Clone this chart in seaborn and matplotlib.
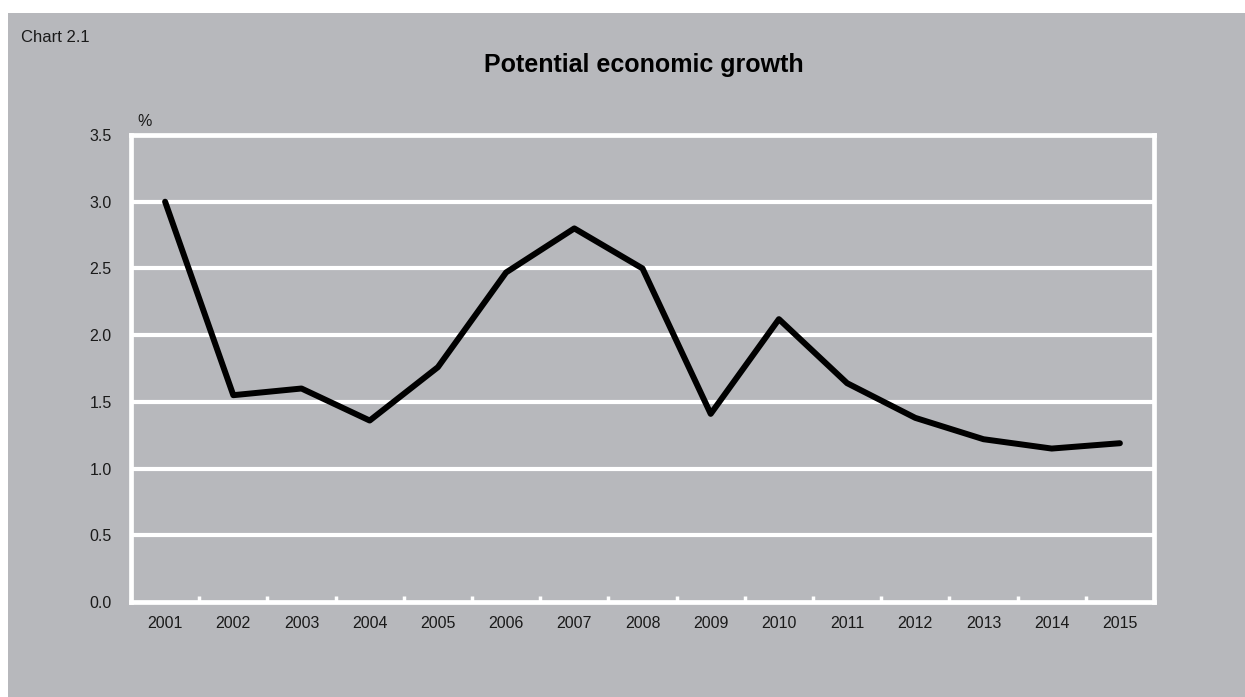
import matplotlib
matplotlib.use("Agg")
import matplotlib.pyplot as plt
import matplotlib.patches as mpatches
from matplotlib.ticker import FixedLocator
import seaborn as sns
import pandas as pd

years = ["2001", "2002", "2003", "2004", "2005", "2006", "2007", "2008",
         "2009", "2010", "2011", "2012", "2013", "2014", "2015"]
growth = [3.00, 1.55, 1.60, 1.36, 1.76, 2.47, 2.80, 2.50,
          1.41, 2.12, 1.64, 1.38, 1.22, 1.15, 1.19]
y_ticks = [0.0, 0.5, 1.0, 1.5, 2.0, 2.5, 3.0, 3.5]

BG = "#b7b8bc"
sns.set_theme(style="white")
plt.rcParams["font.family"] = ["Liberation Sans", "DejaVu Sans"]

df = pd.DataFrame({"year": years, "growth": growth})

W, H = 1245, 697
fig = plt.figure(figsize=(W / 100, H / 100), dpi=100)
fig.patch.set_facecolor("white")
fig.patches.append(mpatches.Rectangle((8 / W, 0), 1 - 8 / W, 1 - 13 / H,
                                      transform=fig.transFigure,
                                      facecolor=BG, edgecolor="none", zorder=-10))

left, right, top, bottom = 131, 1154, 135, 602
ax = fig.add_axes([left / W, 1 - bottom / H, (right - left) / W, (bottom - top) / H])
ax.set_facecolor(BG)

for yv in y_ticks[1:-1]:
    ax.axhline(yv, color="white", lw=3.0, zorder=1)

sns.lineplot(data=df, x="year", y="growth", ax=ax, color="black", lw=4.3,
             sort=False, zorder=3)

ax.set_xlim(-0.5, len(years) - 0.5)
ax.set_ylim(0, 3.5)
ax.set_yticks(y_ticks)
ax.set_yticklabels([f"{v:.1f}" for v in y_ticks])
ax.set_xticks(range(len(years)))
ax.set_xticklabels(years)
ax.tick_params(axis="both", which="major", length=0, labelsize=11.5, colors="#1a1a1a")
ax.tick_params(axis="y", pad=14)
ax.tick_params(axis="x", pad=10)
ax.xaxis.set_minor_locator(FixedLocator([i + 0.5 for i in range(len(years) - 1)]))
ax.tick_params(axis="x", which="minor", direction="in", length=4, width=2.5,
               color="white", bottom=True)
ax.set_xlabel("")
ax.set_ylabel("")

for s in ax.spines.values():
    s.set_visible(True)
    s.set_color("white")
    s.set_linewidth(3.4)

fig.text(137 / W, 1 - 122 / H, "%", ha="left", va="center", fontsize=11.5, color="#1a1a1a")
fig.text(21 / W, 1 - 38 / H, "Chart 2.1", ha="left", va="center", fontsize=12, color="#1a1a1a")
fig.text(644 / W, 1 - 65 / H, "Potential economic growth", ha="center", va="center",
         fontsize=18, fontweight="bold", color="black")

fig.savefig("out.png", dpi=100, facecolor=fig.get_facecolor())
